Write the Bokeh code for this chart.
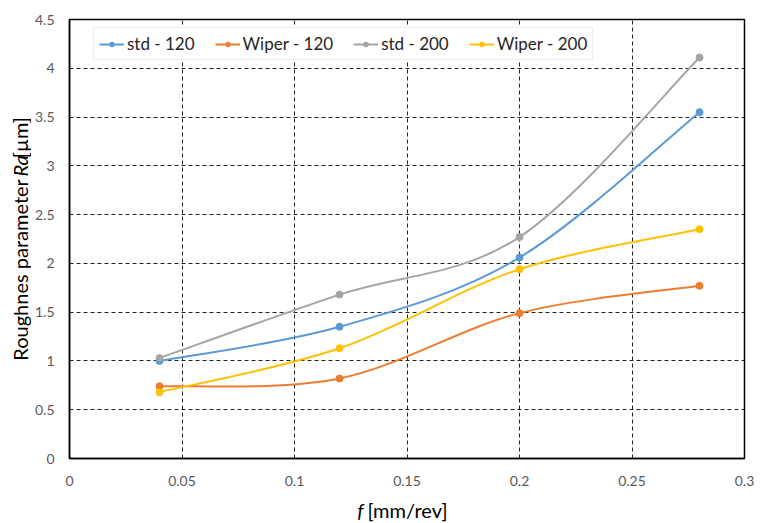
import numpy as np
from bokeh.plotting import figure
from bokeh.layouts import row, column
from bokeh.models import Range1d, FixedTicker, Legend, LegendItem
from bokeh.core.properties import value
from bokeh.embed import file_html
from bokeh.resources import INLINE

feed = [0.04, 0.12, 0.2, 0.28]
std_120 = [1.00, 1.35, 2.06, 3.55]
wiper_120 = [0.74, 0.82, 1.49, 1.77]
std_200 = [1.03, 1.68, 2.27, 4.11]
wiper_200 = [0.68, 1.13, 1.94, 2.35]
series_names = ["std - 120", "Wiper - 120", "std - 200", "Wiper - 200"]
colors = ["#5B9BD5", "#ED7D31", "#A5A5A5", "#FFC000"]
x_ticks = [0, 0.05, 0.1, 0.15, 0.2, 0.25, 0.3]
y_ticks = [0, 0.5, 1, 1.5, 2, 2.5, 3, 3.5, 4, 4.5]
x_title = ["f", "[mm/rev]"]
y_title = ["Roughnes parameter", "Ra", "[µm]"]

FONT = "Lato"
YL_W = 31
MAIN_H = 495
XL_H = 27

p = figure(width=758 - YL_W, height=MAIN_H, output_backend="svg", toolbar_location=None,
           x_range=Range1d(0, 0.3), y_range=Range1d(0, 4.5),
           min_border_left=69 - YL_W, min_border_right=14, min_border_top=19,
           min_border_bottom=MAIN_H - 458)
p.background_fill_color = "white"
p.border_fill_color = "white"
p.outline_line_color = "black"
p.outline_line_width = 1.5

for ax, ticks in ((p.xaxis, x_ticks), (p.yaxis, y_ticks)):
    ax.ticker = FixedTicker(ticks=ticks)
    ax.major_tick_line_color = None
    ax.minor_tick_line_color = None
    ax.axis_line_color = "black"
    ax.axis_line_width = 1.5
    ax.major_label_text_font = FONT
    ax.major_label_text_font_size = "14px"
    ax.major_label_text_color = "#595959"
p.xaxis.major_label_standoff = 11
p.yaxis.major_label_standoff = 9

p.xgrid.ticker = FixedTicker(ticks=[0.05, 0.1, 0.15, 0.2, 0.25])
p.ygrid.ticker = FixedTicker(ticks=[0.5, 1, 1.5, 2, 2.5, 3, 3.5, 4])
for g in (p.xgrid, p.ygrid):
    g.grid_line_color = "#222222"
    g.grid_line_dash = "4 3"
    g.grid_line_width = 1


def smooth_controls(xs, ys):
    xs = np.asarray(xs, float)
    ys = np.asarray(ys, float)
    n = len(xs)
    out = {k: [] for k in ("x0", "y0", "x1", "y1", "cx0", "cy0", "cx1", "cy1")}
    for i in range(n - 1):
        ip = max(i - 1, 0)
        inn = min(i + 2, n - 1)
        out["x0"].append(xs[i]); out["y0"].append(ys[i])
        out["x1"].append(xs[i + 1]); out["y1"].append(ys[i + 1])
        out["cx0"].append(xs[i] + (xs[i + 1] - xs[ip]) / 6)
        out["cy0"].append(ys[i] + (ys[i + 1] - ys[ip]) / 6)
        out["cx1"].append(xs[i + 1] - (xs[inn] - xs[i]) / 6)
        out["cy1"].append(ys[i + 1] - (ys[inn] - ys[i]) / 6)
    return out


items = []
for name, ys, c in zip(series_names, [std_120, wiper_120, std_200, wiper_200], colors):
    cp = smooth_controls(feed, ys)
    p.bezier(line_color=c, line_width=2, **cp)
    proxy = p.line(x=[np.nan], y=[np.nan], line_color=c, line_width=2)
    sc = p.scatter(feed, ys, size=7, fill_color=c, line_color=c)
    items.append(LegendItem(label=name, renderers=[proxy, sc]))

legend = Legend(items=items, orientation="horizontal", location=(24, 398))
legend.label_text_font = FONT
legend.label_text_font_size = "17px"
legend.label_text_color = "#262626"
legend.glyph_width = 25
legend.glyph_height = 12
legend.label_height = 12
legend.label_standoff = 3
legend.spacing = 20
legend.padding = 5
legend.margin = 0
legend.border_line_color = "#D9D9D9"
legend.border_line_width = 1
legend.background_fill_color = "white"
legend.background_fill_alpha = 1
p.add_layout(legend, "center")


def text_fig(w, h, x0, x1, y0, y1):
    f = figure(width=w, height=h, output_backend="svg", toolbar_location=None,
               x_range=Range1d(x0, x1), y_range=Range1d(y0, y1),
               x_axis_type=None, y_axis_type=None, min_border=0)
    f.outline_line_color = None
    f.grid.visible = False
    f.background_fill_color = "white"
    f.border_fill_color = "white"
    return f

# y-axis title panel: page x 0..YL_W, page y 0..MAIN_H (data y = MAIN_H - page y)
# each rotated piece is anchored at its upper end
yl = text_fig(YL_W, MAIN_H, 0, YL_W, 0, MAIN_H)
for txt, py, style in ((y_title[0], 180, "normal"),
                       (y_title[1], 153, "italic"),
                       (y_title[2], 110, "normal")):
    yl.text(x=[19], y=[MAIN_H - py], text=[txt], angle=np.pi / 2,
            text_font=value(FONT), text_font_style=style, text_font_size="20px",
            text_align="right", text_baseline="middle", text_color="black")

# x-axis title panel: page x 0..758, page y MAIN_H..MAIN_H+XL_H
xl = text_fig(758, XL_H, 0, 758, 0, XL_H)
for txt, cx, style in ((x_title[0], 360, "italic"), (x_title[1], 407, "normal")):
    xl.text(x=[cx], y=[MAIN_H + XL_H - 509], text=[txt], text_font=value(FONT),
            text_font_style=style, text_font_size="20px", text_align="center",
            text_baseline="middle", text_color="black")

layout = column(row(yl, p), xl)
open("out.html", "w").write(file_html(layout, INLINE))
